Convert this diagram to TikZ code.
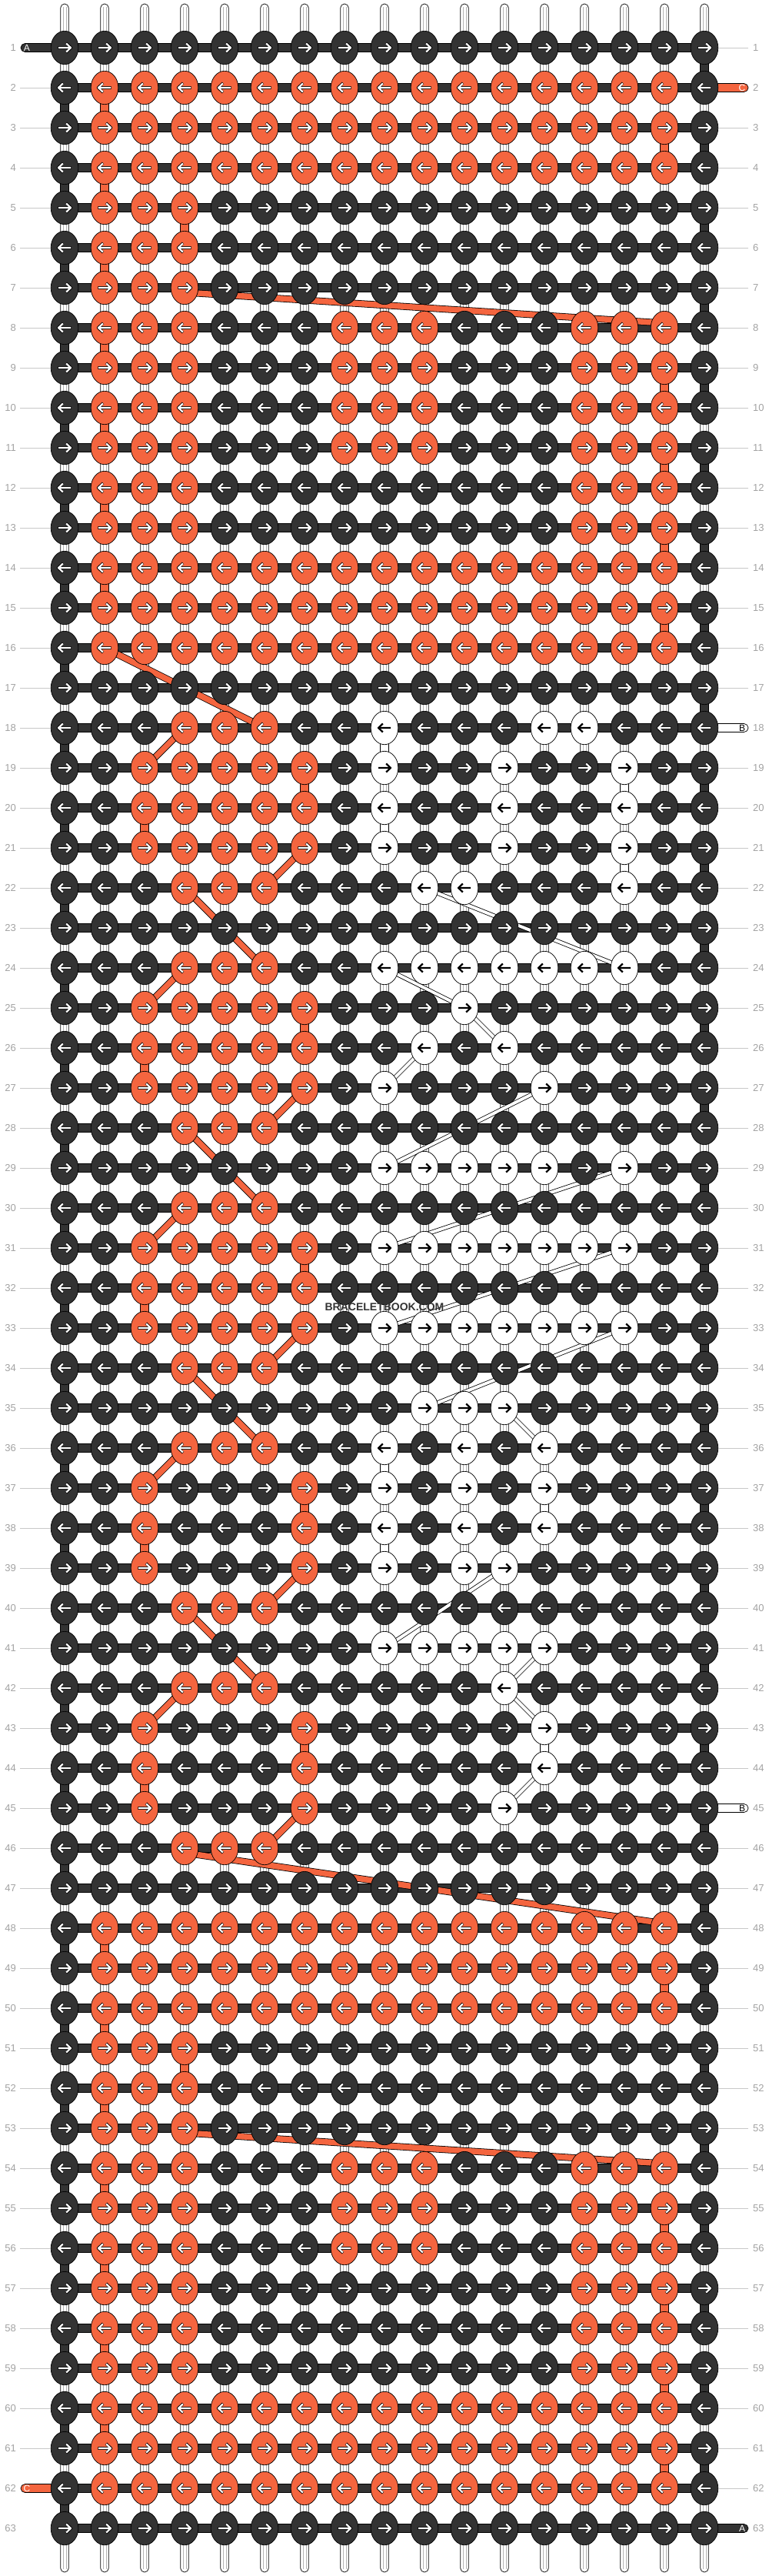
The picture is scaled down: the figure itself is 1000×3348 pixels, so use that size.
\documentclass[tikz,border=0pt]{standalone}
\usepackage{fontspec}
\setmainfont{Liberation Sans}
\usetikzlibrary{shapes.geometric}
\definecolor{dk}{HTML}{333333}
\definecolor{orng}{HTML}{F4653F}
\definecolor{lbl}{HTML}{A3A3A3}
\definecolor{lline}{HTML}{C8C8C8}
\definecolor{inl}{HTML}{B4B4B4}
\pgfdeclarelayer{back}
\pgfdeclarelayer{mid}
\pgfsetlayers{back,mid,main}
\tikzset{
 knot/.style={ellipse,draw=black,line width=0.7pt,minimum width=35.6pt,minimum height=43.4pt,inner sep=0pt,outer sep=0pt},
 knotD/.style={fill=dk},
 knotO/.style={fill=orng},
 knotW/.style={fill=white},
 hbar/.style={draw=black,line width=0.7pt,fill=dk},
 vbase/.style={draw=black,line width=0.7pt,fill=white},
 innerline/.style={draw=inl,line width=0.5pt},
 arrout/.style={draw=black,line width=3.6pt,line join=round},
 arrin/.style={draw=white,line width=2.2pt,line join=round},
 arrblk/.style={draw=black,line width=2.2pt,line join=round},
 oout/.style={draw=black,line width=9pt},
 oin/.style={draw=orng,line width=7.4pt},
 wout/.style={draw=black,line width=5.6pt},
 win/.style={draw=white,line width=4pt},
 lbltxt/.style={text=lbl,font=\fontsize{13}{13}\selectfont,inner sep=0pt},
 tailtxt/.style={font=\fontsize{12}{12}\selectfont,inner sep=0pt},
 leader/.style={draw=lline,line width=0.8pt},
 tailbox/.style={draw=black,line width=0.7pt,rounded corners=5.5pt},
}
\newcommand\arrD[3]{%
 \begin{scope}[shift={(#1,#2)},xscale=#3]
 \draw[arrout] (-8.6,0)--(8.4,0) (2,-6)--(8.4,0)--(2,6);
 \draw[arrin] (-8,0)--(8,0) (2.2,-5.5)--(8,0)--(2.2,5.5);
 \end{scope}}
\let\arrO\arrD
\newcommand\arrW[3]{%
 \begin{scope}[shift={(#1,#2)},xscale=#3]
 \draw[arrblk] (-8,0)--(8,0) (2.2,-5.5)--(8,0)--(2.2,5.5);
 \end{scope}}
\newcommand\placeknot[3]{%
 \pgfmathsetmacro\knx{84+(#2-1)*52}%
 \pgfmathsetmacro\kny{62+(#1-1)*52}%
 \pgfmathsetmacro\knd{1-2*mod(#1+1,2)}%
 \edef\knname{k#1c#2}%
 \node[knot,knot#3] (\knname) at (\knx,\kny) {};%
 \csname arr#3\endcsname{\knx}{\kny}{\knd}%
}
\newcommand\knotrow[2]{\def\kwrow{#1}\def\kwcol{0}\kwprocess#2\relax}
\def\kwprocess#1{\ifx#1\relax\else\pgfmathtruncatemacro\kwcol{\kwcol+1}\placeknot{\kwrow}{\kwcol}{#1}\expandafter\kwprocess\fi}
\newcommand\vseg[3]{%
 \pgfmathsetmacro\vx{84+(#1-1)*52}%
 \pgfmathsetmacro\vy{62+(#2-1)*52}%
 \draw[draw=black,line width=0.7pt,fill=#3] (\vx-5.3,\vy) rectangle (\vx+5.3,\vy+52);}
\newcommand\odiag[5][0]{\begin{pgfonlayer}{mid}
 \draw[oout] ([yshift=-#1pt]k#2c#3.center) -- ([yshift=#1pt]k#4c#5.center);
 \draw[oin] ([yshift=-#1pt]k#2c#3.center) -- ([yshift=#1pt]k#4c#5.center);
 \end{pgfonlayer}}
\newcommand\wdiag[4]{\begin{pgfonlayer}{mid}
 \draw[wout] (k#1c#2.center) -- (k#3c#4.center);
 \draw[win] (k#1c#2.center) -- (k#3c#4.center);
 \end{pgfonlayer}}
\begin{document}
\begin{tikzpicture}[x=1pt,y=-1pt]
\useasboundingbox (0,0) rectangle (1000,3348);
\begin{pgfonlayer}{back}
\fill[white] (0,0) rectangle (1000,3348);
\foreach \c in {1,...,17}{
  \pgfmathsetmacro\bx{84+(\c-1)*52}
  \draw[vbase,rounded corners=5.3pt] (\bx-5.3,5) rectangle (\bx+5.3,3343);
  \draw[innerline] (\bx-2,9) -- (\bx-2,3339) (\bx+2,9) -- (\bx+2,3339);
}
\foreach \r in {1,3,...,61}{\vseg{17}{\r}{dk}}
\foreach \r in {2,4,...,62}{\vseg{1}{\r}{dk}}
\foreach \r in {2,4,6,8,10,12,14,48,50,52,54,56,58,60}{\vseg{2}{\r}{orng}}
\foreach \r in {3,9,11,13,15,49,55,57,59,61}{\vseg{16}{\r}{orng}}
\foreach \r in {5,51}{\vseg{4}{\r}{orng}}
\foreach \r in {19,25,31,37,43}{\vseg{7}{\r}{orng}}
\foreach \r in {20,26,32,38,44}{\vseg{3}{\r}{orng}}
\foreach \c/\r in {9/18,9/20,9/36,9/38,15/19,15/21,13/37,13/43}{\vseg{\c}{\r}{white}}
\foreach \r in {1,...,63}{\pgfmathsetmacro\hy{62+(\r-1)*52}\draw[hbar] (84,\hy-5.5) rectangle (916,\hy+5.5);}
\draw[tailbox,fill=dk] (27,56.5) rectangle (92,67.5);
\draw[tailbox,fill=orng] (27,3228.5) rectangle (92,3239.5);
\draw[tailbox,fill=orng] (908,108.5) rectangle (973,119.5);
\draw[tailbox,fill=white] (908,940.5) rectangle (973,951.5);
\draw[tailbox,fill=white] (908,2344.5) rectangle (973,2355.5);
\draw[tailbox,fill=dk] (908,3280.5) rectangle (973,3291.5);
\end{pgfonlayer}
\node[tailtxt,text=white] (tA1) at (35,62.5) {A};
\node[tailtxt,text=white] (tC62) at (35,3234.5) {C};
\node[tailtxt,text=white] (tC2) at (965,114.5) {C};
\node[tailtxt,text=black] (tB18) at (965,946.5) {B};
\node[tailtxt,text=black] (tB45) at (965,2350.5) {B};
\node[tailtxt,text=white] (tA63) at (965,3286.5) {A};
\knotrow{1}{DDDDDDDDDDDDDDDDD}
\knotrow{2}{DOOOOOOOOOOOOOOOD}
\knotrow{3}{DOOOOOOOOOOOOOOOD}
\knotrow{4}{DOOOOOOOOOOOOOOOD}
\knotrow{5}{DOOODDDDDDDDDDDDD}
\knotrow{6}{DOOODDDDDDDDDDDDD}
\knotrow{7}{DOOODDDDDDDDDDDDD}
\knotrow{8}{DOOODDDOOODDDOOOD}
\knotrow{9}{DOOODDDOOODDDOOOD}
\knotrow{10}{DOOODDDOOODDDOOOD}
\knotrow{11}{DOOODDDOOODDDOOOD}
\knotrow{12}{DOOODDDDDDDDDOOOD}
\knotrow{13}{DOOODDDDDDDDDOOOD}
\knotrow{14}{DOOOOOOOOOOOOOOOD}
\knotrow{15}{DOOOOOOOOOOOOOOOD}
\knotrow{16}{DOOOOOOOOOOOOOOOD}
\knotrow{17}{DDDDDDDDDDDDDDDDD}
\knotrow{18}{DDDOOODDWDDDWWDDD}
\knotrow{19}{DDOOOOODWDDWDDWDD}
\knotrow{20}{DDOOOOODWDDWDDWDD}
\knotrow{21}{DDOOOOODWDDWDDWDD}
\knotrow{22}{DDDOOODDDWWDDDWDD}
\knotrow{23}{DDDDDDDDDDDDDDDDD}
\knotrow{24}{DDDOOODDWWWWWWWDD}
\knotrow{25}{DDOOOOODDDWDDDDDD}
\knotrow{26}{DDOOOOODDWDWDDDDD}
\knotrow{27}{DDOOOOODWDDDWDDDD}
\knotrow{28}{DDDOOODDDDDDDDDDD}
\knotrow{29}{DDDDDDDDWWWWWDWDD}
\knotrow{30}{DDDOOODDDDDDDDDDD}
\knotrow{31}{DDOOOOODWWWWWWWDD}
\knotrow{32}{DDOOOOODDDDDDDDDD}
\knotrow{33}{DDOOOOODWWWWWWWDD}
\knotrow{34}{DDDOOODDDDDDDDDDD}
\knotrow{35}{DDDDDDDDDWWWDDDDD}
\knotrow{36}{DDDOOODDWDWDWDDDD}
\knotrow{37}{DDODDDODWDWDWDDDD}
\knotrow{38}{DDODDDODWDWDWDDDD}
\knotrow{39}{DDODDDODWDWWDDDDD}
\knotrow{40}{DDDOOODDDDDDDDDDD}
\knotrow{41}{DDDDDDDDWWWWWDDDD}
\knotrow{42}{DDDOOODDDDDWDDDDD}
\knotrow{43}{DDODDDODDDDDWDDDD}
\knotrow{44}{DDODDDODDDDDWDDDD}
\knotrow{45}{DDODDDODDDDWDDDDD}
\knotrow{46}{DDDOOODDDDDDDDDDD}
\knotrow{47}{DDDDDDDDDDDDDDDDD}
\knotrow{48}{DOOOOOOOOOOOOOOOD}
\knotrow{49}{DOOOOOOOOOOOOOOOD}
\knotrow{50}{DOOOOOOOOOOOOOOOD}
\knotrow{51}{DOOODDDDDDDDDDDDD}
\knotrow{52}{DOOODDDDDDDDDDDDD}
\knotrow{53}{DOOODDDDDDDDDDDDD}
\knotrow{54}{DOOODDDOOODDDOOOD}
\knotrow{55}{DOOODDDOOODDDOOOD}
\knotrow{56}{DOOODDDOOODDDOOOD}
\knotrow{57}{DOOODDDDDDDDDOOOD}
\knotrow{58}{DOOODDDDDDDDDOOOD}
\knotrow{59}{DOOODDDDDDDDDOOOD}
\knotrow{60}{DOOOOOOOOOOOOOOOD}
\knotrow{61}{DOOOOOOOOOOOOOOOD}
\knotrow{62}{DOOOOOOOOOOOOOOOD}
\knotrow{63}{DDDDDDDDDDDDDDDDD}
% orange string crossings
\odiag[6]{7}{4}{8}{16}
\odiag{16}{2}{18}{6}
\odiag{18}{4}{19}{3}
\odiag{21}{7}{22}{6}
\odiag{22}{4}{24}{6}
\odiag{24}{4}{25}{3}
\odiag{27}{7}{28}{6}
\odiag{28}{4}{30}{6}
\odiag{30}{4}{31}{3}
\odiag{33}{7}{34}{6}
\odiag{34}{4}{36}{6}
\odiag{36}{4}{37}{3}
\odiag{39}{7}{40}{6}
\odiag{40}{4}{42}{6}
\odiag{42}{4}{43}{3}
\odiag{45}{7}{46}{6}
\odiag[6]{46}{4}{48}{16}
\odiag[6]{53}{4}{54}{16}
% white string crossings
\wdiag{22}{10}{24}{15}
\wdiag{24}{9}{25}{11}
\wdiag{25}{11}{26}{12}
\wdiag{26}{10}{27}{9}
\wdiag{27}{13}{29}{9}
\wdiag{29}{15}{31}{9}
\wdiag{31}{15}{33}{9}
\wdiag{33}{15}{35}{10}
\wdiag{35}{12}{36}{13}
\wdiag{39}{12}{41}{9}
\wdiag{41}{13}{42}{12}
\wdiag{42}{12}{43}{13}
\wdiag{44}{13}{45}{12}
% row labels
\foreach \r in {1,...,63}{
 \pgfmathsetmacro\ly{62+(\r-1)*52}
 \node[lbltxt,anchor=east] (ln\r) at (21,\ly) {\r};
 \node[lbltxt,anchor=west] (rn\r) at (979,\ly) {\r};
}
\foreach \r in {2,...,61}{\draw[leader] ([xshift=5pt]ln\r.east) -- (k\r c1.west);}
\foreach \r in {1,3,4,...,17,19,20,...,44,46,47,...,62}{\draw[leader] (k\r c17.east) -- ([xshift=-6pt]rn\r.west);}
\node[font=\fontsize{14}{14}\selectfont\bfseries,text=dk] (wm) at (500,1699) {BRACELETBOOK.COM};
\end{tikzpicture}
\end{document}
